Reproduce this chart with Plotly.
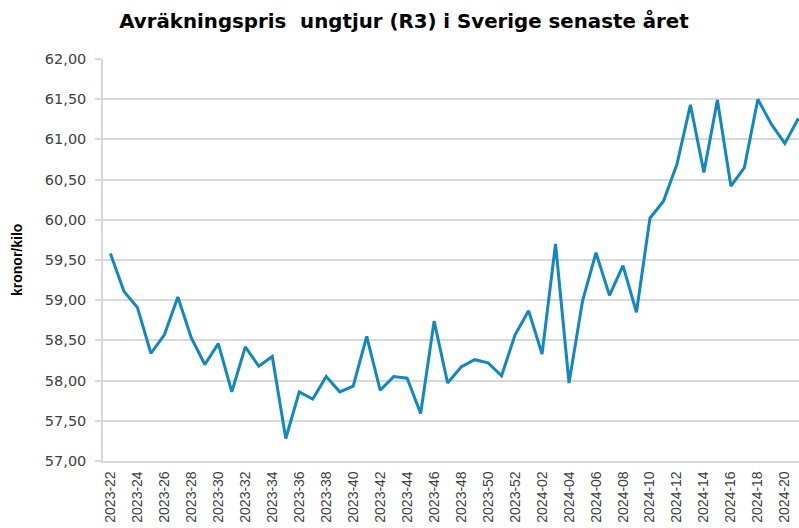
import plotly.graph_objects as go

weeks = [f"2023-{w:02d}" for w in range(22, 53)] + [f"2024-{w:02d}" for w in range(1, 22)]
prices = [
    59.58, 59.11, 58.91, 58.34, 58.57, 59.04, 58.53, 58.20, 58.46, 57.86,
    58.42, 58.18, 58.30, 57.28, 57.86, 57.77, 58.05, 57.86, 57.93, 58.55,
    57.88, 58.05, 58.03, 57.59, 58.74, 57.97, 58.17, 58.26, 58.22, 58.06,
    58.57, 58.87, 58.33, 59.70, 57.97, 58.99, 59.59, 59.06, 59.43, 58.85,
    60.02, 60.23, 60.69, 61.43, 60.59, 61.49, 60.42, 60.65, 61.50, 61.19,
    60.95, 61.26,
]
tick_labels = weeks[::2][:26]
y_ticks = [57.0, 57.5, 58.0, 58.5, 59.0, 59.5, 60.0, 60.5, 61.0, 61.5, 62.0]

title_text = "Avräkningspris  ungtjur (R3) i Sverige senaste året"
y_title = "kronor/kilo"

fig = go.Figure()
fig.add_trace(go.Scatter(
    x=weeks, y=prices, mode="lines",
    line=dict(color="#0F88C3", width=3),
    cliponaxis=True, hoverinfo="x+y",
))

grid = "#d9d9d9"
fig.update_layout(
    width=799, height=528,
    margin=dict(l=103, r=0, t=59, b=67),
    paper_bgcolor="white", plot_bgcolor="white",
    separators=", ",
    showlegend=False,
    font=dict(family="Liberation Sans, Arial, sans-serif", color="#404040"),
    title=dict(
        text=f"<b>{title_text}</b>",
        x=0.5056, xref="container", xanchor="center",
        y=0.96, yref="container", yanchor="middle",
        font=dict(size=19.8, color="#000000", family="DejaVu Sans, sans-serif"),
    ),
    xaxis=dict(
        type="category",
        categoryorder="array", categoryarray=weeks,
        range=[-0.55, 51.05],
        tickmode="array", tickvals=tick_labels, ticktext=tick_labels,
        tickangle=-90,
        tickfont=dict(size=14, color="#404040"),
        ticklabelstandoff=3,
        showgrid=False, zeroline=False,
        showline=True, linecolor=grid, linewidth=1.5,
        ticks="", ticklen=0,
    ),
    yaxis=dict(
        range=[57, 62],
        tickmode="array", tickvals=y_ticks,
        tickformat=".2f",
        tickfont=dict(size=14.5, color="#404040", family="DejaVu Sans, sans-serif"),
        ticklabelstandoff=6,
        showgrid=True, gridcolor=grid, gridwidth=1.5,
        zeroline=False,
        showline=True, linecolor=grid, linewidth=1.5,
        ticks="outside", ticklen=6, tickcolor=grid, tickwidth=1.5,
    ),
    annotations=[dict(
        text=f"<b>{y_title}</b>",
        x=-0.1236, y=0.5, xref="paper", yref="paper",
        xanchor="center", yanchor="middle",
        textangle=-90, showarrow=False,
        font=dict(size=14, color="#000000", family="Liberation Sans, Arial, sans-serif"),
    )],
)

fig.write_html(
    "out.html",
    config={"responsive": False, "displayModeBar": False},
    post_script="document.body.style.margin='0';document.body.style.overflow='hidden';",
)
